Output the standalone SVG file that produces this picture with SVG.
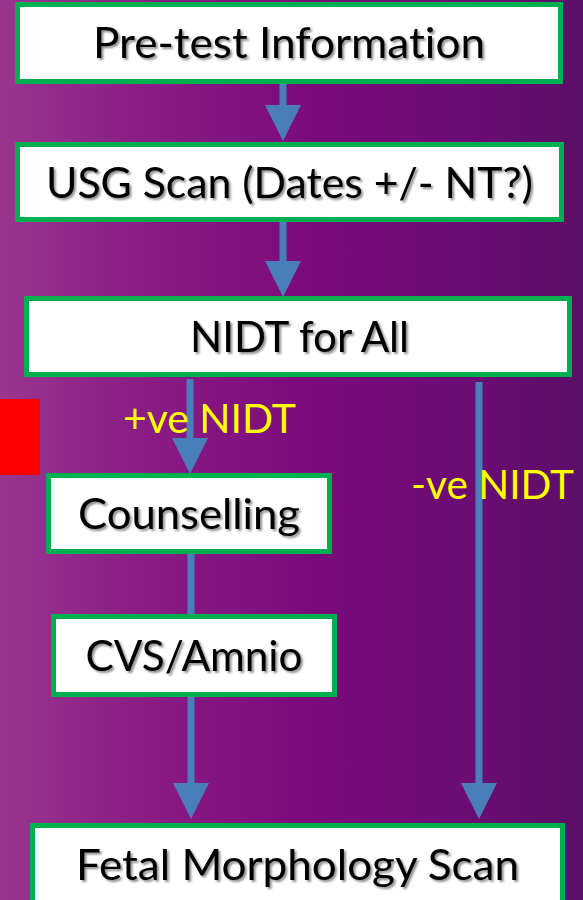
<svg xmlns="http://www.w3.org/2000/svg" width="583" height="900" viewBox="0 0 583 900">
<defs>
<linearGradient id="bg" x1="0" y1="0" x2="1" y2="0">
<stop offset="0" stop-color="#99358f"/>
<stop offset="0.25" stop-color="#8a1c84"/>
<stop offset="0.55" stop-color="#7a0a7a"/>
<stop offset="0.8" stop-color="#6c0c74"/>
<stop offset="1" stop-color="#5a0f66"/>
</linearGradient>
<filter id="ts" x="-10%" y="-20%" width="130%" height="150%">
<feDropShadow dx="2" dy="2" stdDeviation="1.2" flood-color="#000" flood-opacity="0.45"/>
</filter>
<marker id="head" markerUnits="userSpaceOnUse" markerWidth="36" markerHeight="36" refX="0" refY="18" orient="auto">
<path d="M0,0 L36,18 L0,36 z" fill="#4a7ebb"/>
</marker>
<style>
.box{fill:#fff;stroke:#00b050;stroke-width:5}
.t{font-family:Lato,"Liberation Sans",sans-serif;font-size:42px;fill:#000;text-anchor:middle;filter:url(#ts);font-variant-ligatures:none}
.lbl{font-family:Lato,"Liberation Sans",sans-serif;font-size:40px;fill:#ffff00}
.c{stroke:#4a7ebb;stroke-width:7;fill:none}
</style>
</defs>
<rect x="0" y="0" width="583" height="900" fill="url(#bg)"/>
<rect x="0" y="399" width="40" height="76" fill="#ff0000"/>
<g id="connectors">
<line class="c" x1="283" y1="84" x2="283" y2="105" marker-end="url(#head)"/>
<line class="c" x1="283" y1="222" x2="283" y2="261" marker-end="url(#head)"/>
<line class="c" x1="190" y1="379" x2="190" y2="438" marker-end="url(#head)"/>
<line class="c" x1="191" y1="553" x2="191" y2="615"/>
<line class="c" x1="191" y1="696" x2="191" y2="783" marker-end="url(#head)"/>
<line class="c" x1="479" y1="382" x2="479" y2="783" marker-end="url(#head)"/>
</g>
<g id="lbl-pos"><text class="lbl" x="123" y="433" textLength="173" lengthAdjust="spacingAndGlyphs">+ve NIDT</text></g>
<g id="lbl-neg"><text class="lbl" x="411" y="499" textLength="163" lengthAdjust="spacingAndGlyphs">-ve NIDT</text></g>
<g id="n1"><rect class="box" x="17.5" y="4.5" width="543" height="77"/><text class="t" x="289" y="58" textLength="392" lengthAdjust="spacingAndGlyphs">Pre-test Information</text></g>
<g id="n2"><rect class="box" x="17.5" y="144.5" width="544" height="75"/><text class="t" x="289.5" y="198" textLength="487" lengthAdjust="spacingAndGlyphs">USG Scan (Dates +/- NT?)</text></g>
<g id="n3"><rect class="box" x="26.5" y="298.5" width="543" height="76"/><text class="t" x="299.5" y="352" textLength="219" lengthAdjust="spacingAndGlyphs">NIDT for All</text></g>
<g id="n4"><rect class="box" x="48.5" y="475.5" width="281" height="76"/><text class="t" x="189" y="529" textLength="222" lengthAdjust="spacingAndGlyphs">Counselling</text></g>
<g id="n5"><rect class="box" x="53.5" y="616.5" width="281" height="78"/><text class="t" x="194" y="671" textLength="217" lengthAdjust="spacingAndGlyphs">CVS/Amnio</text></g>
<g id="n6"><rect class="box" x="32.5" y="825.5" width="530" height="90"/><text class="t" x="297.5" y="880" textLength="443" lengthAdjust="spacingAndGlyphs">Fetal Morphology Scan</text></g>
</svg>
